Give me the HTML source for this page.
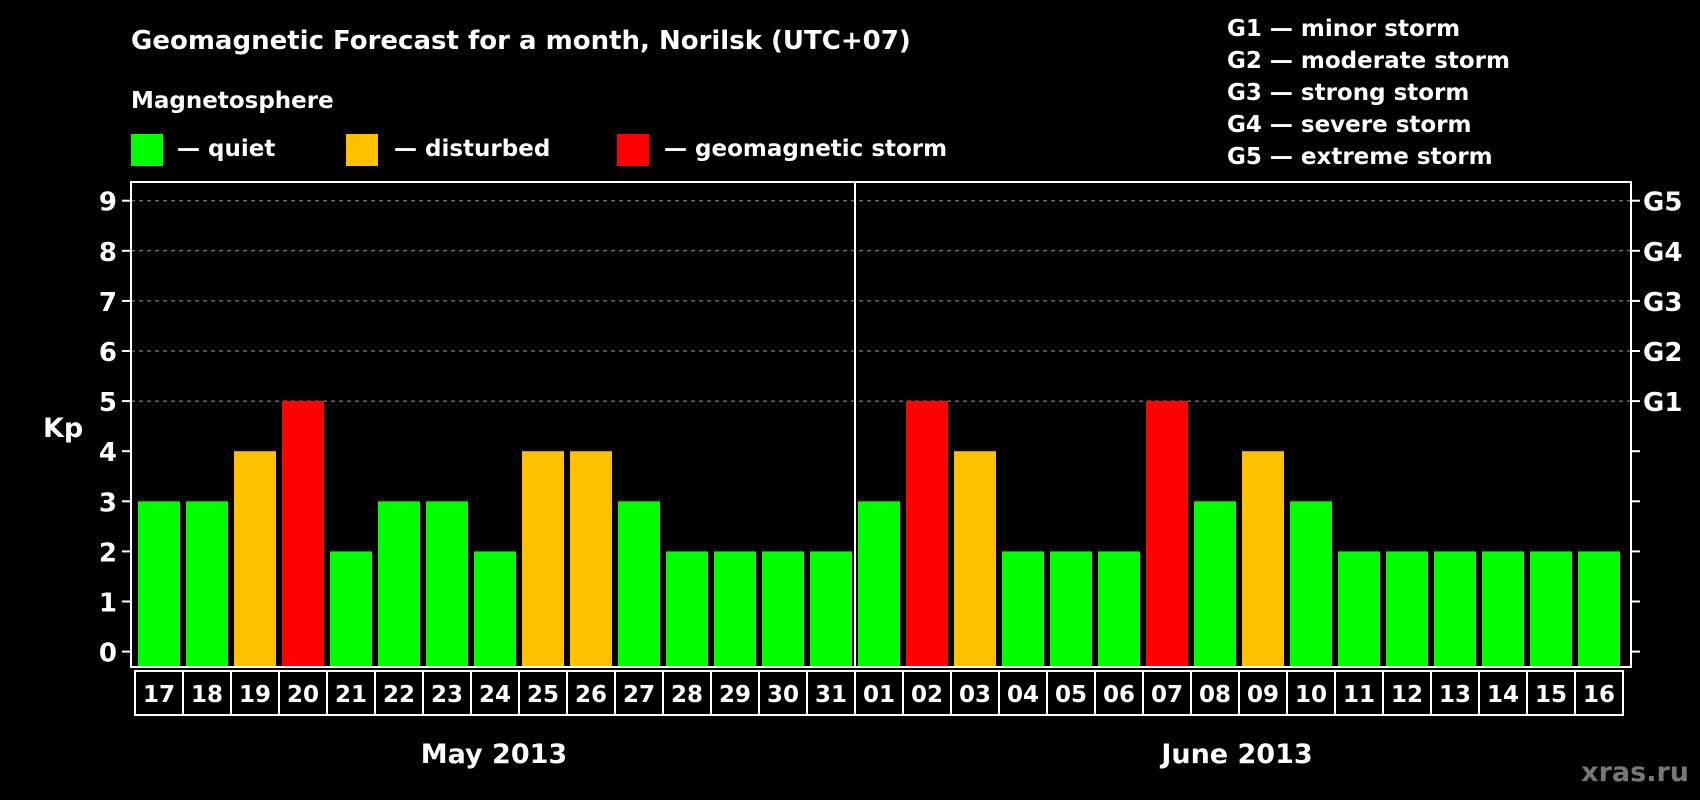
<!DOCTYPE html>
<html><head><meta charset="utf-8"><style>
html,body{margin:0;padding:0;background:#000;width:1700px;height:800px;overflow:hidden}
svg text{font-family:"DejaVu Sans","Liberation Sans",Arial,sans-serif;font-weight:bold;fill:#fff}
</style></head><body>
<svg id="chart" width="1700" height="800" xmlns="http://www.w3.org/2000/svg">
<text x="131" y="49" font-size="26">Geomagnetic Forecast for a month, Norilsk (UTC+07)</text>
<text x="131" y="108" font-size="23">Magnetosphere</text>
<rect x="131" y="134" width="32" height="32" fill="#00ff00"/>
<text x="177" y="156" font-size="23">— quiet</text>
<rect x="346" y="134" width="32" height="32" fill="#ffc000"/>
<text x="394" y="156" font-size="23">— disturbed</text>
<rect x="617" y="134" width="32" height="32" fill="#ff0000"/>
<text x="664" y="156" font-size="23">— geomagnetic storm</text>
<g font-size="23">
<text x="1227" y="36">G1 — minor storm</text>
<text x="1227" y="68">G2 — moderate storm</text>
<text x="1227" y="100">G3 — strong storm</text>
<text x="1227" y="132">G4 — severe storm</text>
<text x="1227" y="164">G5 — extreme storm</text>
</g>
<text x="43" y="437" font-size="27">Kp</text>
<g id="plot"></g>
<text x="494" y="763" font-size="27" text-anchor="middle">May 2013</text>
<text x="1237" y="763" font-size="27" text-anchor="middle">June 2013</text>
<text x="1689" y="781" font-size="27" text-anchor="end" style="fill:#777">xras.ru</text>
</svg>
<script>
const days = ["17","18","19","20","21","22","23","24","25","26","27","28","29","30","31","01","02","03","04","05","06","07","08","09","10","11","12","13","14","15","16"];
const kp = [3,3,4,5,2,3,3,2,4,4,3,2,2,2,2,3,5,4,2,2,2,5,3,4,3,2,2,2,2,2,2];
const yTicks = [0,1,2,3,4,5,6,7,8,9];
const gLabels = ["G1","G2","G3","G4","G5"];
const gLevels = [5,6,7,8,9];
const monthSplit = 15;

const NS = "http://www.w3.org/2000/svg";
const g = document.getElementById('plot');
const L = 131, R = 1631, T = 182, B = 667, y0 = 651.6, unit = 50.1;
const x0 = 138, pitch = 48, bw = 42;
const yS = v => y0 - v * unit;
const xS = i => x0 + i * pitch;
function mk(tag, attrs){const e=document.createElementNS(NS,tag);for(const k in attrs)e.setAttribute(k,attrs[k]);g.appendChild(e);return e;}

yTicks.forEach(v=>{
  if(v>=5){
    const gl=mk('line',{x1:L,x2:R,y1:yS(v),y2:yS(v),stroke:'#999','stroke-width':1,'stroke-dasharray':'4,4'});
    
    
  }
  const t=mk('line',{x1:L-9,x2:L,y1:yS(v),y2:yS(v),stroke:'#fff','stroke-width':2});
  
  
  const t2=mk('line',{x1:R,x2:R+9,y1:yS(v),y2:yS(v),stroke:'#fff','stroke-width':2});
  
  
  const lb=mk('text',{x:L-14,y:yS(v)+10,'font-size':26,'text-anchor':'end'});
  lb.textContent=v;
  
  
});
gLabels.forEach((s,i)=>{
  const lb=mk('text',{x:R+12,y:yS(gLevels[i])+10,'font-size':26});
  lb.textContent=s;
  
  
});
kp.forEach((v,i)=>{
  const c = v>=5?'#ff0000':(v>=4?'#ffc000':'#00ff00');
  const r=mk('rect',{x:xS(i),y:yS(v),width:bw,height:B-1-yS(v),fill:c});
  
  
  const cell=mk('rect',{x:xS(i)-3,y:671,width:pitch,height:44,fill:'none',stroke:'#fff','stroke-width':2});
  
  
  const t=mk('text',{x:xS(i)+bw/2,y:702,'font-size':23,'text-anchor':'middle'});
  t.textContent=days[i];
  
  
});
const dv=mk('line',{x1:xS(monthSplit)-3,x2:xS(monthSplit)-3,y1:T,y2:B,stroke:'#fff','stroke-width':2});


const fr=mk('rect',{x:L,y:T,width:R-L,height:B-T,fill:'none',stroke:'#fff','stroke-width':2});


</script>
</body></html>
